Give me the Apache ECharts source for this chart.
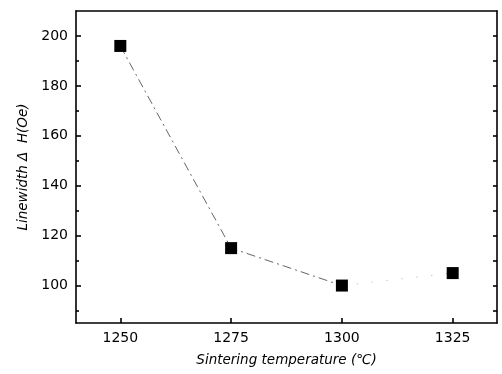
<!DOCTYPE html>
<html>
<head>
<meta charset="utf-8">
<script src="https://cdn.jsdelivr.net/npm/echarts@6/dist/echarts.min.js"></script>
<style>html,body{margin:0;padding:0;background:#fff}#c{width:502px;height:374px}</style>
</head>
<body>
<div id="c"></div>
<script>
const temperatures = [1250, 1275, 1300, 1325];
const linewidth = [196, 115, 100, 105];
const xTickLabels = [1250, 1275, 1300, 1325];
const yTickLabels = [100, 120, 140, 160, 180, 200];
const yMinorTicks = [90, 110, 130, 150, 170, 190];
const yRightTicks = [90, 100, 110, 120, 130, 140, 150, 160, 170, 180, 190, 200];

const font = 'DejaVu Sans';
const chart = echarts.init(document.getElementById('c'), null, {renderer: 'canvas'});
const lineStyle = {color: '#000', width: 1.6};
const pts = temperatures.map((t, i) => [t, linewidth[i]]);
chart.setOption({
  animation: false,
  backgroundColor: '#fff',
  grid: {left: 76, top: 11, right: 5, bottom: 51},
  xAxis: [
    {
      type: 'value', min: 1240, max: 1335, position: 'bottom',
      name: 'Sintering temperature (\u2103)', nameLocation: 'middle', nameGap: 30,
      nameTextStyle: {fontFamily: font, fontSize: 13.5, fontStyle: 'italic', color: '#000'},
      axisLine: {show: true, lineStyle: lineStyle},
      axisTick: {show: true, inside: true, length: 5, lineStyle: lineStyle, customValues: xTickLabels},
      axisLabel: {fontFamily: font, fontSize: 14, color: '#000', margin: 8, customValues: xTickLabels,
                  formatter: v => String(v)},
      splitLine: {show: false}
    },
    {
      type: 'value', min: 1240, max: 1335, position: 'top',
      axisLine: {show: true, onZero: false, lineStyle: lineStyle},
      axisTick: {show: false}, axisLabel: {show: false}, splitLine: {show: false}
    }
  ],
  yAxis: [
    {
      type: 'value', min: 85, max: 210, position: 'left',
      name: 'Linewidth \u0394  H(Oe)', nameLocation: 'middle', nameGap: 46,
      nameTextStyle: {fontFamily: font, fontSize: 13.5, fontStyle: 'italic', color: '#000'},
      axisLine: {show: true, onZero: false, lineStyle: lineStyle},
      axisTick: {show: true, inside: true, length: 5, lineStyle: lineStyle, customValues: yTickLabels},
      axisLabel: {fontFamily: font, fontSize: 14, color: '#000', margin: 8, customValues: yTickLabels},
      splitLine: {show: false}
    },
    {
      type: 'value', min: 85, max: 210, position: 'left',
      axisLine: {show: false},
      axisTick: {show: true, inside: true, length: 3, lineStyle: lineStyle, customValues: yMinorTicks},
      axisLabel: {show: false}, splitLine: {show: false}
    },
    {
      type: 'value', min: 85, max: 210, position: 'right',
      axisLine: {show: true, onZero: false, lineStyle: lineStyle},
      axisTick: {show: true, inside: true, length: 4, lineStyle: lineStyle, customValues: yRightTicks},
      axisLabel: {show: false}, splitLine: {show: false}
    }
  ],
  series: [
    {
      type: 'line',
      data: pts.slice(0, 3),
      symbol: 'none',
      lineStyle: {color: '#666', width: 1, type: [9, 4, 2, 4]},
      z: 2
    },
    {
      type: 'line',
      data: pts.slice(2, 4),
      symbol: 'none',
      lineStyle: {color: '#aaa', width: 1, type: [1, 14]},
      z: 2
    },
    {
      type: 'scatter',
      data: pts,
      symbol: 'rect', symbolSize: 12,
      itemStyle: {color: '#000', opacity: 1},
      z: 3
    }
  ]
});
</script>
</body>
</html>
